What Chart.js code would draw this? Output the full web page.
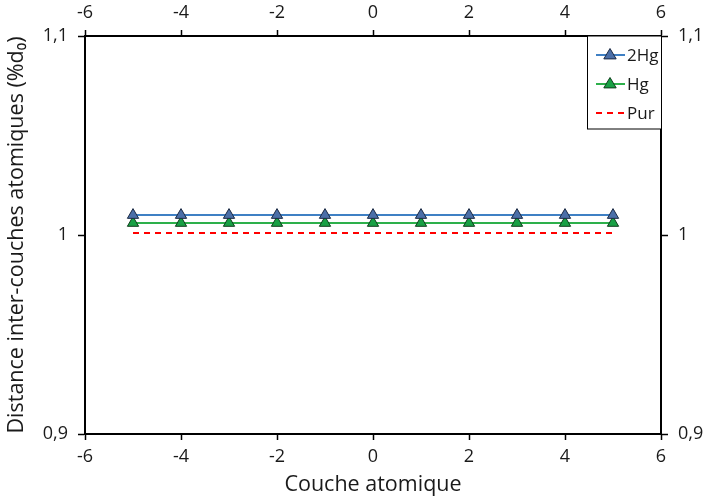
<!DOCTYPE html>
<html>
<head>
<meta charset="utf-8">
<script src="https://cdn.jsdelivr.net/npm/chart.js@4/dist/chart.umd.min.js"></script>
<style>
  html, body { margin: 0; padding: 0; background: #fff; }
  #wrap { width: 705px; height: 502px; position: relative; }
</style>
</head>
<body>
<div id="wrap"><canvas id="chart"></canvas></div>
<script>
// couches atomiques
const couches = [-5, -4, -3, -2, -1, 0, 1, 2, 3, 4, 5];
const serie2Hg = [1.010, 1.010, 1.010, 1.010, 1.010, 1.010, 1.010, 1.010, 1.010, 1.010, 1.010];
const serieHg = [1.006, 1.006, 1.006, 1.006, 1.006, 1.006, 1.006, 1.006, 1.006, 1.006, 1.006];
const seriePur = [1.001, 1.001, 1.001, 1.001, 1.001, 1.001, 1.001, 1.001, 1.001, 1.001, 1.001];
const xTicks = [-6, -4, -2, 0, 2, 4, 6];
const yTicks = [0.9, 1.0, 1.1];

const police = "'Open Sans', 'DejaVu Sans', sans-serif";
const couleurTexte = "#1a1a1a";

function pts(ys) {
  return couches.map((x, i) => ({ x: x, y: ys[i] }));
}

function formatY(v) {
  return (Math.round(v * 10) / 10).toString().replace(".", ",");
}

// legende dessinee dans la zone du graphique
const legendeBoite = {
  id: "legendeBoite",
  afterDraw(chart) {
    const ctx = chart.ctx;
    const area = chart.chartArea;
    const x0 = 587, y0 = area.top, w = area.right - 587, h = 93;
    ctx.save();
    ctx.fillStyle = "#fff";
    ctx.fillRect(x0, y0, w, h);
    ctx.strokeStyle = "#000";
    ctx.lineWidth = 1;
    ctx.strokeRect(x0 + 0.5, y0, w, h);
    ctx.font = "17px " + police;
    ctx.textBaseline = "middle";
    chart.data.datasets.forEach((ds, i) => {
      const y = y0 + 19 + i * 29;
      ctx.strokeStyle = ds.borderColor;
      ctx.lineWidth = ds.borderWidth;
      ctx.setLineDash(ds.borderDash || []);
      ctx.beginPath();
      ctx.moveTo(596, y);
      ctx.lineTo(625, y);
      ctx.stroke();
      ctx.setLineDash([]);
      if (ds.pointRadius > 0) {
        ctx.fillStyle = ds.pointBackgroundColor;
        ctx.strokeStyle = ds.pointBorderColor;
        ctx.lineWidth = 1;
        const r = ds.pointRadius;
        ctx.beginPath();
        ctx.moveTo(610, y - r);
        ctx.lineTo(610 + r * 0.95, y + r * 0.6);
        ctx.lineTo(610 - r * 0.95, y + r * 0.6);
        ctx.closePath();
        ctx.fill();
        ctx.stroke();
      }
      ctx.fillStyle = couleurTexte;
      ctx.textAlign = "left";
      ctx.fillText(ds.label, 627, y + 1);
    });
    ctx.restore();
  }
};

const axeX = {
  type: "linear",
  min: -6,
  max: 6,
  afterBuildTicks: (s) => { s.ticks = xTicks.map((v) => ({ value: v })); },
  grid: { drawOnChartArea: false, tickLength: 6, color: "#000", tickWidth: 1.5 },
  border: { display: true, color: "#000", width: 2 },
  ticks: { color: couleurTexte, font: { family: police, size: 18 }, padding: 6 }
};

const axeY = {
  type: "linear",
  min: 0.9,
  max: 1.1,
  afterBuildTicks: (s) => { s.ticks = yTicks.map((v) => ({ value: v })); },
  grid: { drawOnChartArea: false, tickLength: 7, color: "#000", tickWidth: 1.5 },
  border: { display: true, color: "#000", width: 2 },
  ticks: { color: couleurTexte, font: { family: police, size: 18 }, padding: 10, callback: formatY }
};

new Chart(document.getElementById("chart"), {
  type: "line",
  data: {
    datasets: [
      {
        label: "2Hg",
        data: pts(serie2Hg),
        borderColor: "#3f80c4",
        borderWidth: 2,
        pointStyle: "triangle",
        pointRadius: 6.5,
        pointBackgroundColor: "#4b6fa8",
        pointBorderColor: "#1b2a44",
        pointBorderWidth: 1
      },
      {
        label: "Hg",
        data: pts(serieHg),
        borderColor: "#2db04b",
        borderWidth: 2,
        pointStyle: "triangle",
        pointRadius: 6.5,
        pointBackgroundColor: "#18a044",
        pointBorderColor: "#0f3d1c",
        pointBorderWidth: 1
      },
      {
        label: "Pur",
        data: pts(seriePur),
        borderColor: "#ff0000",
        borderWidth: 2,
        borderDash: [6, 5],
        pointRadius: 0
      }
    ]
  },
  options: {
    responsive: true,
    maintainAspectRatio: false,
    animation: false,
    layout: { padding: 0 },
    plugins: { legend: { display: false }, tooltip: { enabled: false } },
    scales: {
      x: {
        ...axeX,
        position: "bottom",
        title: { display: true, text: "Couche atomique", color: couleurTexte, font: { family: police, size: 21.5 }, padding: { top: 2 } },
        afterFit: (s) => { s.height = 68; }
      },
      x2: {
        ...axeX,
        position: "top",
        afterFit: (s) => { s.height = 36; }
      },
      y: {
        ...axeY,
        position: "left",
        title: { display: true, text: "Distance inter-couches atomiques (%d₀)", color: couleurTexte, font: { family: police, size: 21.5 }, padding: { bottom: 0 } },
        afterFit: (s) => { s.width = 85; }
      },
      y2: {
        ...axeY,
        position: "right",
        afterFit: (s) => { s.width = 44; }
      }
    }
  },
  plugins: [legendeBoite]
});
</script>
</body>
</html>
